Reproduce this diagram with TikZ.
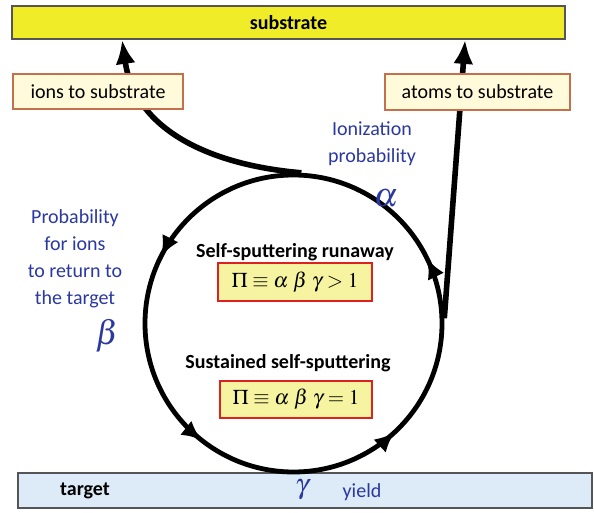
\documentclass[tikz,border=0pt]{standalone}
\usepackage{mathptmx}
\usepackage{fontspec}
\setmainfont{Carlito}
\usetikzlibrary{arrows.meta,positioning,decorations.markings}
\definecolor{subyellow}{RGB}{240,236,40}
\definecolor{boxgray}{RGB}{85,85,85}
\definecolor{labelfill}{RGB}{255,250,218}
\definecolor{labelborder}{RGB}{196,112,76}
\definecolor{formfill}{RGB}{246,244,160}
\definecolor{formred}{RGB}{222,32,32}
\definecolor{targetblue}{RGB}{220,235,247}
\definecolor{noteblue}{RGB}{42,56,160}

\begin{document}
\begin{tikzpicture}[
    x=0.5pt, y=-0.5pt,
    plate/.style={draw=boxgray, line width=0.9pt, inner sep=0pt},
    labelbox/.style={draw=labelborder, fill=labelfill, line width=0.8pt, inner sep=0pt, font=\fontsize{10}{12}\selectfont},
    formbox/.style={draw=formred, fill=formfill, line width=1pt, inner sep=0pt, font=\fontsize{10.5}{12}\selectfont},
    heading/.style={font=\bfseries\fontsize{10}{12}\selectfont},
    note/.style={text=noteblue, align=center, font=\fontsize{10}{13.5}\selectfont},
    greek/.style={text=noteblue, inner sep=0pt},
    flow/.style={-{Latex[length=12pt,width=10pt]}, line width=2.8pt},
    loopring/.style={circle, draw, line width=2.4pt, minimum size=148.5pt, inner sep=0pt,
        postaction={decorate},
        decoration={markings,
            mark=at position 0.072 with {\arrow{Latex[length=10pt,width=9pt]}},
            mark=at position 0.425 with {\arrow{Latex[length=10pt,width=9pt]}},
            mark=at position 0.644 with {\arrow{Latex[length=10pt,width=9pt]}},
            mark=at position 0.869 with {\arrow{Latex[length=10pt,width=9pt]}}}}
]
\useasboundingbox (0,0) rectangle (594,513);
\node[plate, fill=subyellow, minimum width=276.5pt, minimum height=16.5pt, font=\bfseries\fontsize{10}{12}\selectfont] (substrate) at (288.5,22.5) {substrate};
\node[plate, fill=targetblue, minimum width=287pt, minimum height=17.5pt] (target) at (305,490.5) {};
\node[loopring] (loop) at (293.5,323.5) {};

\draw[flow] (loop.87) .. controls (210,165) and (135,130) .. ([xshift=55.5pt]substrate.south west);
\draw[flow] (loop.2) -- ([xshift=227pt]substrate.south west);

\node[labelbox, minimum width=85pt, minimum height=17.5pt] (ions) at (98,91.5) {ions to substrate};
\node[labelbox, minimum width=92.5pt, minimum height=18pt] (atoms) at (477.5,92) {atoms to substrate};

\node[heading] (runaway) at (295,252) {Self-sputtering runaway};
\node[formbox, minimum width=77pt, minimum height=19pt] (runform) at (295,282) {$\Pi \equiv \alpha\;\beta\;\gamma > 1$};
\node[heading] (sustained) at (288,363) {Sustained self-sputtering};
\node[formbox, minimum width=76pt, minimum height=18.5pt] (susform) at (296,399.5) {$\Pi \equiv \alpha\;\beta\;\gamma = 1$};

\node[note] (returnnote) at (75,259) {Probability\\for ions\\to return to\\the target};
\node[greek, font=\fontsize{17}{17}\selectfont] (betasym) at (107,336) {$\beta$};
\node[note] (ionnote) at (372,144) {Ionization\\probability};
\node[greek, font=\fontsize{17}{17}\selectfont] (alphasym) at (386,198) {$\alpha$};

\node[heading] (targetname) at (85,491) {target};
\node[greek, font=\fontsize{14}{14}\selectfont] (gammasym) at (302,490) {$\gamma$};
\node[note] (yieldnote) at (362,492) {yield};
\end{tikzpicture}
\end{document}
